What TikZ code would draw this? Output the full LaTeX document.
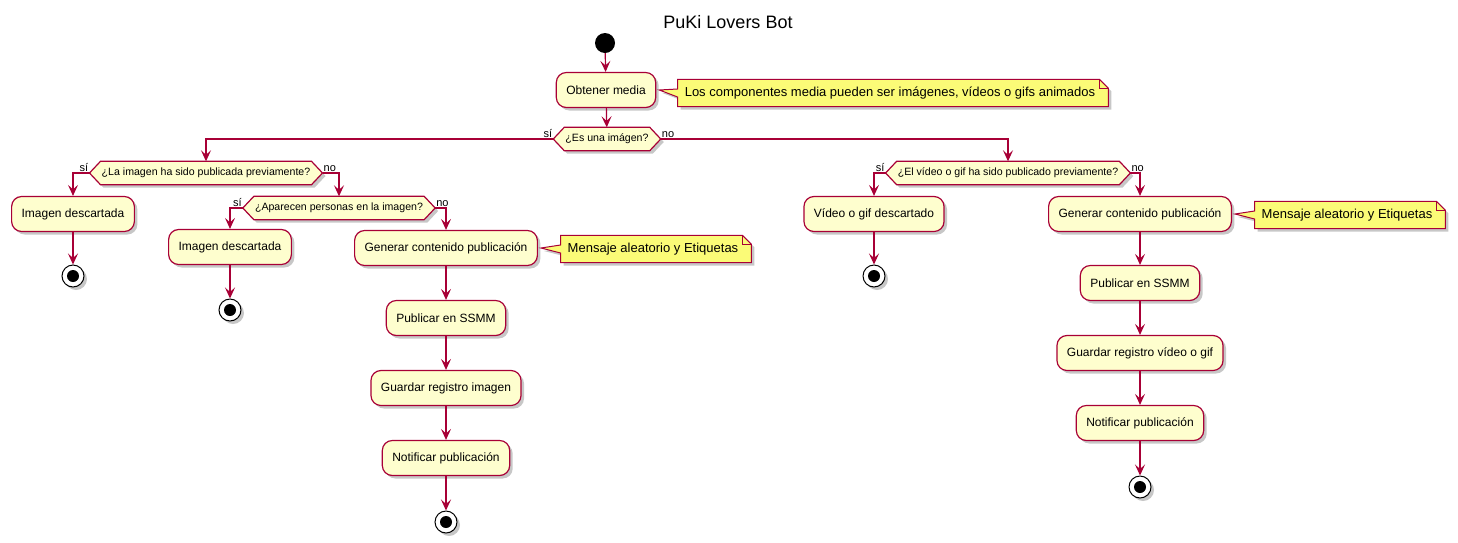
\documentclass[tikz,border=0pt]{standalone}
\usepackage{fontspec}
\setmainfont{Liberation Sans}
\usetikzlibrary{arrows.meta,shadows,backgrounds,calc}
\definecolor{pborder}{HTML}{A80036}
\definecolor{pfill}{HTML}{FEFECE}
\definecolor{pnote}{HTML}{FBFB77}
\tikzset{
 shad/.style={drop shadow={shadow xshift=3pt,shadow yshift=-3pt,opacity=0.22,fill=black}},
 act/.style={rectangle, rounded corners=10pt, draw=pborder, fill=pfill, line width=1.2pt, minimum height=35pt, inner xsep=10pt, font=\fontsize{12}{14}\selectfont, shad},
 hexbox/.style={rectangle, inner xsep=1pt, inner ysep=0pt, minimum height=23pt, font=\fontsize{10.6}{13}\selectfont},
 hexshape/.style={draw=pborder, fill=pfill, line width=1.2pt, shad},
 notebox/.style={rectangle, inner xsep=7pt, minimum height=27pt, font=\fontsize{13}{15}\selectfont},
 noteshape/.style={draw=pborder, fill=pnote, line width=1pt, shad},
 startn/.style={circle, fill=black, minimum size=20pt, inner sep=0pt},
 endn/.style={circle, draw=black, fill=white, line width=1pt, minimum size=22pt, inner sep=0pt, shad, path picture={\fill[black] (path picture bounding box.center) circle (6pt);}},
 flow/.style={draw=pborder, line width=1.2pt, -{Stealth[length=11pt,width=10pt,inset=4.5pt]}},
 lbl/.style={font=\fontsize{11}{13}\selectfont, inner sep=1pt},
}
\newcommand\hexbg[1]{%
 \coordinate (#1-w) at ([xshift=-11pt]#1.west);
 \coordinate (#1-e) at ([xshift=11pt]#1.east);
 \path[hexshape] (#1.north west) -- (#1.north east) -- (#1-e) -- (#1.south east) -- (#1.south west) -- (#1-w) -- cycle;}
\newcommand\notebg[2]{%
 \path[noteshape] (#1.north west) -- ([xshift=-9pt]#1.north east) -- ([yshift=-9pt]#1.north east) -- (#1.south east) -- (#1.south west) -- ([yshift=-4pt]#1.west) -- ([xshift=3pt]#2.east) -- ([yshift=4pt]#1.west) -- cycle;
 \draw[draw=pborder, line width=1pt] ([xshift=-9pt]#1.north east) -- ([xshift=-9pt,yshift=-9pt]#1.north east) -- ([yshift=-9pt]#1.north east);}
\begin{document}
\begin{tikzpicture}[x=1pt,y=-1pt]
\useasboundingbox (0,0) rectangle (1458,542);
\node[font=\fontsize{18}{20}\selectfont] (title) at (728,22) {PuKi Lovers Bot};
\node[startn] (start) at (605,43) {};
\node[act] (obt) at (606,90) {Obtener media};
\node[notebox] (n1) at (893,93) {Los componentes media pueden ser imágenes, vídeos o gifs animados\hspace*{6pt}};
\node[hexbox] (d1) at (607,139) {¿Es una imágen?};
% left
\node[hexbox] (d2) at (206,173) {¿La imagen ha sido publicada previamente?};
\node[act] (img1) at (73,214) {Imagen descartada};
\node[endn] (e1) at (73,276) {};
\node[hexbox] (d3) at (339,208) {¿Aparecen personas en la imagen?};
\node[act] (img2) at (230,247) {Imagen descartada};
\node[endn] (e2) at (230,310) {};
\node[act] (gen1) at (446,248) {Generar contenido publicación};
\node[notebox] (n2) at (656,249) {Mensaje aleatorio y Etiquetas\hspace*{6pt}};
\node[act] (pub1) at (446,318) {Publicar en SSMM};
\node[act] (gua1) at (446,388) {Guardar registro imagen};
\node[act] (not1) at (446,458) {Notificar publicación};
\node[endn] (e3) at (446,522) {};
% right
\node[hexbox] (d4) at (1008,173) {¿El vídeo o gif ha sido publicado previamente?};
\node[act] (vid) at (874,214) {Vídeo o gif descartado};
\node[endn] (e4) at (874,276) {};
\node[act] (gen2) at (1140,214) {Generar contenido publicación};
\node[notebox] (n3) at (1350,215) {Mensaje aleatorio y Etiquetas\hspace*{6pt}};
\node[act] (pub2) at (1140,283) {Publicar en SSMM};
\node[act] (gua2) at (1140,353) {Guardar registro vídeo o gif};
\node[act] (not2) at (1140,423) {Notificar publicación};
\node[endn] (e5) at (1140,487) {};
\begin{scope}[on background layer]
\hexbg{d1}\hexbg{d2}\hexbg{d3}\hexbg{d4}
\notebg{n1}{obt}\notebg{n2}{gen1}\notebg{n3}{gen2}
\end{scope}
% labels
\node[lbl, anchor=south east] (l1s) at (d1-w) {sí};
\node[lbl, anchor=south west] (l1n) at (d1-e) {no};
\node[lbl, anchor=south east] (l2s) at (d2-w) {sí};
\node[lbl, anchor=south west] (l2n) at (d2-e) {no};
\node[lbl, anchor=south east] (l3s) at (d3-w) {sí};
\node[lbl, anchor=south west] (l3n) at (d3-e) {no};
\node[lbl, anchor=south east] (l4s) at (d4-w) {sí};
\node[lbl, anchor=south west] (l4n) at (d4-e) {no};
% flows
\draw[flow] (start) -- (obt);
\draw[flow] (obt) -- (d1);
\draw[flow] (d1-w) -| (d2.north);
\draw[flow] (d1-e) -| (d4.north);
\draw[flow] (d2-w) -| (img1.north);
\draw[flow] (d2-e) -| (d3.north);
\draw[flow] (img1) -- (e1);
\draw[flow] (d3-w) -| (img2.north);
\draw[flow] (d3-e) -| (gen1.north);
\draw[flow] (img2) -- (e2);
\draw[flow] (gen1) -- (pub1);
\draw[flow] (pub1) -- (gua1);
\draw[flow] (gua1) -- (not1);
\draw[flow] (not1) -- (e3);
\draw[flow] (d4-w) -| (vid.north);
\draw[flow] (d4-e) -| (gen2.north);
\draw[flow] (vid) -- (e4);
\draw[flow] (gen2) -- (pub2);
\draw[flow] (pub2) -- (gua2);
\draw[flow] (gua2) -- (not2);
\draw[flow] (not2) -- (e5);
\end{tikzpicture}
\end{document}
